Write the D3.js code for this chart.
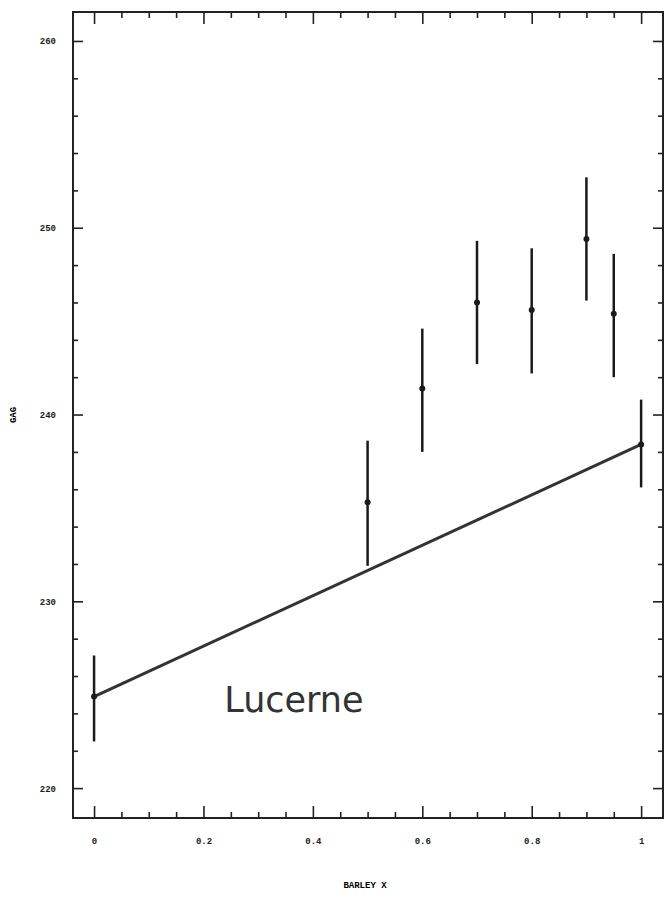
<!DOCTYPE html>
<html>
<head>
<meta charset="utf-8">
<script src="https://cdn.jsdelivr.net/npm/d3@7"></script>
<style>
  body { margin: 0; background: #fff; }
  .axis text { font-family: "Liberation Mono", monospace; font-weight: bold; font-size: 9px; fill: #222; }
  .axis path, .axis line { stroke: #222; }
</style>
</head>
<body>
<svg id="chart" width="665" height="899"></svg>
<script>
// barley proportion vs GAG, Lucerne
const barleyX = [0, 0.5, 0.6, 0.7, 0.8, 0.9, 0.95, 1];
const gagMean = [224.9, 235.3, 241.4, 246.0, 245.6, 249.4, 245.4, 238.4];
const gagLow  = [222.5, 231.9, 238.0, 242.7, 242.2, 246.1, 242.0, 236.1];
const gagHigh = [227.1, 238.6, 244.6, 249.3, 248.9, 252.7, 248.6, 240.8];
const fitLine = [[0, 224.9], [1, 238.4]];
const xMajor = [0, 0.2, 0.4, 0.6, 0.8, 1];
const xMinor = [0.05, 0.1, 0.15, 0.25, 0.3, 0.35, 0.45, 0.5, 0.55, 0.65, 0.7, 0.75, 0.85, 0.9, 0.95];
const yMajor = [220, 230, 240, 250, 260];
const yMinor = [222, 224, 226, 228, 232, 234, 236, 238, 242, 244, 246, 248, 252, 254, 256, 258];

const margin = { top: 12, right: 2, bottom: 81, left: 73 };
const width = 665 - margin.left - margin.right;
const height = 899 - margin.top - margin.bottom;

const svg = d3.select("#chart");
const g = svg.append("g").attr("transform", `translate(${margin.left},${margin.top})`);

const x = d3.scaleLinear().domain([-0.0385, 1.04]).range([0, width]);
const y = d3.scaleLinear().domain([218.4, 261.55]).range([height, 0]);

// frame
g.append("rect")
    .attr("width", width).attr("height", height)
    .attr("fill", "none").attr("stroke", "#222").attr("stroke-width", 2);

// axes, ticks pointing inward
function styleAxis(sel) {
    sel.select(".domain").remove();
    sel.selectAll("line").attr("stroke-width", 1.6);
}

g.append("g").attr("class", "axis")
    .attr("transform", `translate(0,${height})`)
    .call(d3.axisBottom(x).tickValues(xMajor).tickSize(-12).tickPadding(20)
        .tickFormat(d => d === 0 ? "0" : d === 1 ? "1" : d3.format(".1f")(d)))
    .call(styleAxis);
g.append("g").attr("class", "axis")
    .attr("transform", `translate(0,${height})`)
    .call(d3.axisBottom(x).tickValues(xMinor).tickSize(-6).tickFormat(""))
    .call(styleAxis);
g.append("g").attr("class", "axis")
    .call(d3.axisTop(x).tickValues(xMajor).tickSize(-12).tickFormat(""))
    .call(styleAxis);
g.append("g").attr("class", "axis")
    .call(d3.axisTop(x).tickValues(xMinor).tickSize(-6).tickFormat(""))
    .call(styleAxis);

g.append("g").attr("class", "axis")
    .call(d3.axisLeft(y).tickValues(yMajor).tickSize(-10).tickPadding(17))
    .call(styleAxis);
g.append("g").attr("class", "axis")
    .call(d3.axisLeft(y).tickValues(yMinor).tickSize(-5).tickFormat(""))
    .call(styleAxis);
g.append("g").attr("class", "axis")
    .attr("transform", `translate(${width},0)`)
    .call(d3.axisRight(y).tickValues(yMajor).tickSize(-10).tickFormat(""))
    .call(styleAxis);
g.append("g").attr("class", "axis")
    .attr("transform", `translate(${width},0)`)
    .call(d3.axisRight(y).tickValues(yMinor).tickSize(-5).tickFormat(""))
    .call(styleAxis);

// fitted line
g.append("path")
    .datum(fitLine)
    .attr("d", d3.line().x(d => x(d[0])).y(d => y(d[1])))
    .attr("fill", "none").attr("stroke", "#333").attr("stroke-width", 3);

// error bars
const pts = barleyX.map((v, i) => ({ x: v, m: gagMean[i], lo: gagLow[i], hi: gagHigh[i] }));
g.selectAll("line.err").data(pts).join("line")
    .attr("class", "err")
    .attr("x1", d => x(d.x)).attr("x2", d => x(d.x))
    .attr("y1", d => y(d.lo)).attr("y2", d => y(d.hi))
    .attr("stroke", "#1a1a1a").attr("stroke-width", 2.5);
g.selectAll("circle.pt").data(pts).join("circle")
    .attr("class", "pt")
    .attr("cx", d => x(d.x)).attr("cy", d => y(d.m))
    .attr("r", 3).attr("fill", "#1a1a1a");

// labels
svg.append("text")
    .attr("x", 365).attr("y", 888)
    .attr("text-anchor", "middle")
    .style("font-family", "Liberation Mono, monospace").style("font-weight", "bold").style("font-size", "9px")
    .text("BARLEY X");

svg.append("text")
    .attr("transform", "translate(16,415) rotate(-90)")
    .attr("text-anchor", "middle")
    .style("font-family", "Liberation Mono, monospace").style("font-weight", "bold").style("font-size", "9px")
    .text("GAG");

g.append("text")
    .attr("x", x(0.238)).attr("y", y(224.1))
    .style("font-family", "DejaVu Sans, sans-serif").style("font-weight", "normal").style("font-size", "35px")
    .attr("fill", "#333")
    .text("Lucerne");
</script>
</body>
</html>
